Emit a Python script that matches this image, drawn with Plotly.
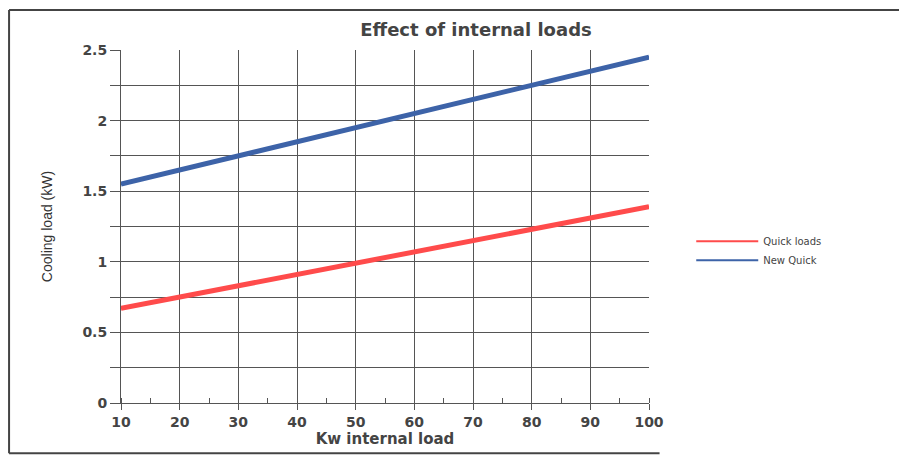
import plotly.graph_objects as go

internal_load = [10, 20, 30, 40, 50, 60, 70, 80, 90, 100]
quick_loads = [0.67, 0.75, 0.83, 0.91, 0.99, 1.07, 1.15, 1.23, 1.31, 1.39]
new_quick = [1.55, 1.65, 1.75, 1.85, 1.95, 2.05, 2.15, 2.25, 2.35, 2.45]

GRID = "#555555"
TEXT = "#444444"
RED = "#ff4b4b"
BLUE = "#3d63a8"

fig = go.Figure()
# thin copies carry the legend entries (legend lines are thin in the original)
fig.add_trace(go.Scatter(x=internal_load, y=quick_loads, mode="lines", name="Quick loads",
                         line=dict(color=RED, width=2)))
fig.add_trace(go.Scatter(x=internal_load, y=new_quick, mode="lines", name="New Quick",
                         line=dict(color=BLUE, width=2)))
fig.add_trace(go.Scatter(x=internal_load, y=quick_loads, mode="lines", showlegend=False,
                         line=dict(color=RED, width=5)))
fig.add_trace(go.Scatter(x=internal_load, y=new_quick, mode="lines", showlegend=False,
                         line=dict(color=BLUE, width=5)))

fig.update_layout(
    width=907, height=456,
    margin=dict(l=113, r=266, t=42, b=61),
    paper_bgcolor="white", plot_bgcolor="white",
    title=dict(text="Effect of internal loads", x=0.516, xanchor="center", y=0.952, yanchor="middle",
               font=dict(family="DejaVu Sans", size=18, color=TEXT, weight="bold")),
    font=dict(family="DejaVu Sans", color=TEXT),
    legend=dict(x=1.08, y=0.499, xanchor="left", yanchor="top", bgcolor="rgba(0,0,0,0)",
                font=dict(family="DejaVu Sans", size=10, color=TEXT), itemwidth=62, tracegroupgap=0),
    showlegend=True,
)
fig.update_xaxes(
    range=[10, 100], tickvals=internal_load, showgrid=True, gridcolor=GRID, gridwidth=1,
    zeroline=False, showline=True, linecolor=GRID, linewidth=1,
    ticks="outside", ticklen=6, tickcolor=GRID,
    minor=dict(dtick=5, tick0=5, ticks="inside", ticklen=5, tickcolor=GRID, showgrid=False),
    tickfont=dict(family="DejaVu Sans", size=14, color=TEXT, weight="bold"),
    title=dict(text="Kw internal load", standoff=0,
               font=dict(family="DejaVu Sans", size=15, color=TEXT, weight="bold")),
)
fig.update_yaxes(
    range=[0, 2.5], dtick=0.5, showgrid=True, gridcolor=GRID, gridwidth=1,
    zeroline=False, showline=True, linecolor=GRID, linewidth=1,
    ticks="outside", ticklen=10, tickcolor=GRID,
    minor=dict(dtick=0.25, ticks="outside", ticklen=10, tickcolor=GRID, showgrid=True, gridcolor=GRID),
    tickfont=dict(family="DejaVu Sans", size=14, color=TEXT, weight="bold"),
    title=dict(text="Cooling load (kW)", standoff=26,
               font=dict(family="Liberation Sans Narrow, Liberation Sans", size=14, color="#333333")),
)
# outer frame of the scanned chart (left, top and bottom edges)
frame = dict(color="#444444", width=2)
fig.add_shape(type="line", xref="paper", yref="paper", x0=-0.212, x1=-0.212, y0=-0.142, y1=1.113,
              line=frame, layer="below")
fig.add_shape(type="line", xref="paper", yref="paper", x0=-0.212, x1=1.6, y0=1.113, y1=1.113,
              line=frame, layer="below")
fig.add_shape(type="line", xref="paper", yref="paper", x0=-0.212, x1=1.02, y0=-0.142, y1=-0.142,
              line=frame, layer="below")

fig.write_html("out.html")
